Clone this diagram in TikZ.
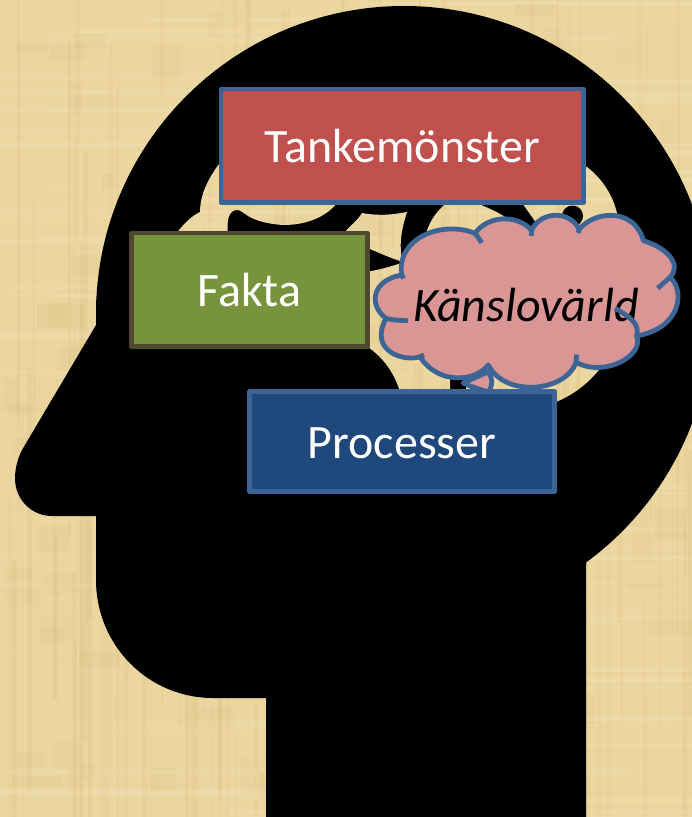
\documentclass[tikz,border=0pt]{standalone}
\usepackage{fontspec}
\setmainfont{Carlito}
\usepackage{xcolor}
\definecolor{papyrus}{HTML}{EBD6A0}
\definecolor{papdark}{HTML}{CDAF68}
\definecolor{paplight}{HTML}{F8E9C4}
\definecolor{boxline}{HTML}{3C6494}
\definecolor{redfill}{HTML}{C0504D}
\definecolor{greenfill}{HTML}{77933C}
\definecolor{greenline}{HTML}{4F4A2D}
\definecolor{bluefill}{HTML}{1F497D}
\definecolor{cloudfill}{HTML}{D99694}
\newcommand{\Papyrus}{%
  \pgfmathsetseed{4711}
  \fill[papyrus] (0,0) rectangle (692,817);
  \foreach \i in {1,...,170}{
    \pgfmathsetmacro{\so}{0.04+0.10*rnd}
    \pgfmathsetmacro{\sx}{random(0,692)}
    \pgfmathsetmacro{\sw}{random(1,5)}
    \pgfmathsetmacro{\sy}{random(-100,700)}
    \pgfmathsetmacro{\sl}{random(150,600)}
    \fill[papdark,opacity=\so] (\sx,\sy) rectangle (\sx+\sw,\sy+\sl);
    \pgfmathsetmacro{\hx}{random(-100,600)}
    \pgfmathsetmacro{\hl}{random(150,600)}
    \pgfmathsetmacro{\hy}{random(0,817)}
    \pgfmathsetmacro{\hw}{random(1,5)}
    \fill[paplight,opacity=\so+0.06] (\hx,\hy) rectangle (\hx+\hl,\hy+\hw);
    \pgfmathsetmacro{\bx}{random(0,660)}
    \pgfmathsetmacro{\by}{random(0,790)}
    \pgfmathsetmacro{\bw}{random(10,50)}
    \pgfmathsetmacro{\bh}{random(8,35)}
    \fill[papdark,opacity=\so*0.8] (\bx,\by) rectangle (\bx+\bw,\by+\bh);
  }
}
\tikzset{
  label text/.style={font=\fontsize{36}{43}\selectfont},
  plate/.style={draw,line width=3.5pt,line join=round,inner sep=0pt,text=white,label text},
  cloudline/.style={draw=boxline,line width=3.6pt,line cap=butt,line join=round},
}
\begin{document}
\begin{tikzpicture}[x=0.75pt,y=-0.75pt]
  \path[use as bounding box,clip] (0,0) rectangle (692,817);
  \Papyrus

  % head
  \coordinate (C) at (404,314);
  \fill[black] (C) circle (308);
  \fill[black] (96,300) -- (96,325) -- (22,450) .. controls (17,460) and (15,470) .. (15,478)
    .. controls (15,500) and (32,516) .. (52,516) -- (96,516) -- (96,580)
    .. controls (96,645) and (148,698) .. (213,698) -- (266,698) -- (266,817)
    -- (586,817) -- (586,400) -- cycle;

  % brain
  \begin{scope}
    \clip (222,160) .. controls (208,178) and (200,195) .. (200,212)
        .. controls (192,216) and (185,222) .. (176,234) -- (228,234)
        .. controls (226,218) and (230,210) .. (237,210)
        .. controls (245,210) and (245,222) .. (283,225)
        .. controls (305,225) and (325,218) .. (337,203) -- (337,160) -- cycle
      (343,234) .. controls (350,226) and (358,220) .. (362,213)
        .. controls (378,216) and (392,215) .. (407,212)
        .. controls (402,228) and (398,245) .. (403,262)
        .. controls (390,258) and (380,253) .. (365,247) -- (365,234) -- cycle
      (365,272) .. controls (380,270) and (392,266) .. (405,262) -- (455,300)
        -- (450,378) -- (450,392) -- (400,392)
        .. controls (395,375) and (385,358) .. (365,345) -- cycle
      (466,392) -- (466,375) -- (590,340) -- (602,366)
        .. controls (590,382) and (575,394) .. (556,402) -- cycle
      (424,250) .. controls (424,230) and (432,214) .. (450,200) -- (470,200)
        .. controls (485,207) and (500,212) .. (512,222) -- (480,270) -- cycle
      (520,200) -- (537,224) -- (619,235) .. controls (620,210) and (610,185) .. (587,167)
        -- (520,165) -- cycle;
    \Papyrus
  \end{scope}
  \fill[black] (572.5,216) circle (10.5);

  % tail under the cloud
  \filldraw[fill=cloudfill,cloudline] (463,383) -- (488,372)
    .. controls (494,380) and (492,388) .. (488,392) -- (470,386) -- cycle;

  % cloud
  \coordinate (A) at (401.7,275);
  \coordinate (B) at (475,233.3);
  \coordinate (D) at (531.7,230.7);
  \coordinate (E) at (579.3,229.3);
  \coordinate (F) at (643.3,240.7);
  \coordinate (G) at (670,277.3);
  \coordinate (H) at (636.5,336);
  \coordinate (I) at (576,362.3);
  \coordinate (J) at (488.3,365);
  \coordinate (K) at (420,356.7);
  \coordinate (L) at (386,318.3);
  \filldraw[fill=cloudfill,cloudline] (A)
    .. controls (396,238) and (442,220) .. (B)
    .. controls (488,215) and (518,214) .. (D)
    .. controls (538,213) and (568,208) .. (E)
    .. controls (595,210) and (635,208) .. (F)
    .. controls (668,248) and (682,265) .. (G)
    .. controls (685,290) and (682,328) .. (H)
    .. controls (645,355) and (605,378) .. (I)
    .. controls (566,392) and (505,398) .. (J)
    .. controls (475,382) and (438,385) .. (K)
    .. controls (405,362) and (368,352) .. (L)
    .. controls (368,305) and (372,280) .. (A) -- cycle;
  \node[font=\fontsize{36}{43}\selectfont\itshape,inner sep=0pt] (kansla) at (526,305) {Känslovärld};
  \draw[cloudline] (L) .. controls (393,320) .. (408,320.7);
  \draw[cloudline] (A) -- (403.5,278.5);
  \draw[cloudline] (B) .. controls (478,237) .. (481.7,242.7);
  \draw[cloudline] (D) -- (531.7,235.5);
  \draw[cloudline] (E) -- (578,233);
  \draw[cloudline] (G) -- (657.7,288.3);
  \draw[cloudline] (615,308.3) .. controls (632,318) and (640,325) .. (H);
  \draw[cloudline] (I) -- (576.7,354.5);
  \draw[cloudline] (K) -- (424,355);

  \node[plate,draw=boxline,fill=redfill,minimum width=271.9pt,minimum height=85.1pt] (tanke) at (402.2,145.7) {Tankemönster};
  \node[plate,draw=greenline,fill=greenfill,minimum width=177pt,minimum height=85.1pt] (fakta) at (249.5,289.7) {Fakta};
  \node[plate,draw=boxline,fill=bluefill,minimum width=228.8pt,minimum height=75pt,text height=26pt] (process) at (402,441.5) {Processer};
\end{tikzpicture}
\end{document}
